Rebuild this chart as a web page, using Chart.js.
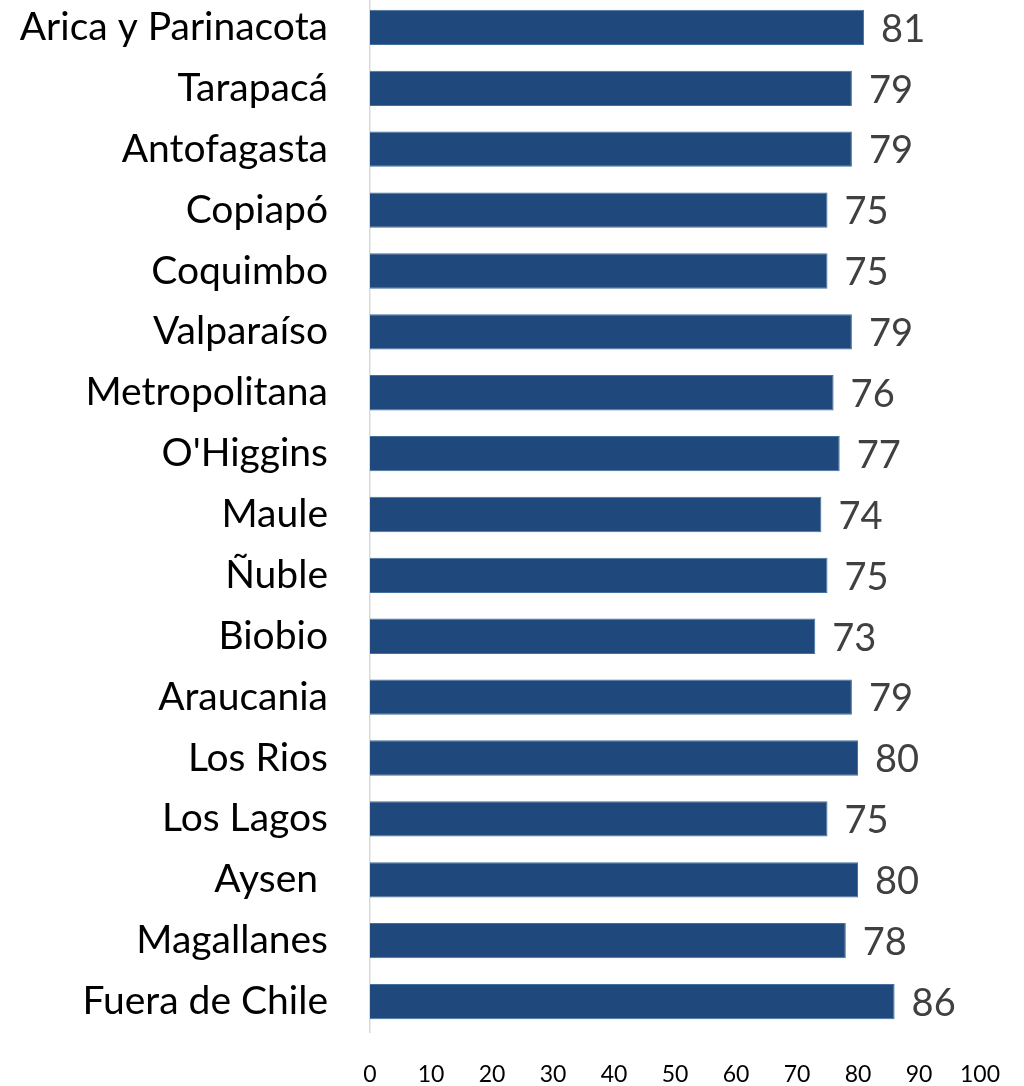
<!DOCTYPE html>
<html>
<head>
<meta charset="utf-8">
<script src="https://cdn.jsdelivr.net/npm/chart.js@4/dist/chart.umd.min.js"></script>
<style>
html,body{margin:0;padding:0;background:#fff;overflow:hidden;}
#wrap{width:1024px;height:1089px;position:relative;margin-top:-3px;}
</style>
</head>
<body>
<div id="wrap"><canvas id="c"></canvas></div>
<script>
const categories = ["Arica y Parinacota","Tarapacá","Antofagasta","Copiapó","Coquimbo","Valparaíso","Metropolitana","O'Higgins","Maule","Ñuble","Biobio","Araucania","Los Rios","Los Lagos","Aysen ","Magallanes","Fuera de Chile"];
const values = [81,79,79,75,75,79,76,77,74,75,73,79,80,75,80,78,86];
const xTicks = [0,10,20,30,40,50,60,70,80,90,100];

const FONT = "Lato, 'Open Sans', sans-serif";

const valueLabels = {
  id: 'valueLabels',
  afterDatasetsDraw(chart) {
    const ctx = chart.ctx;
    const meta = chart.getDatasetMeta(0);
    ctx.save();
    ctx.font = "38px " + FONT;
    ctx.fillStyle = "#404040";
    ctx.textAlign = "left";
    ctx.textBaseline = "middle";
    meta.data.forEach((bar, i) => {
      ctx.fillText(String(values[i]), bar.x + 17, bar.y + 2);
    });
    ctx.restore();
  }
};

new Chart(document.getElementById('c'), {
  type: 'bar',
  data: {
    labels: categories,
    datasets: [{
      data: values,
      backgroundColor: '#1F497D',
      borderColor: '#41719C',
      borderWidth: 1,
      categoryPercentage: 1,
      barPercentage: 0.58
    }]
  },
  options: {
    indexAxis: 'y',
    responsive: true,
    maintainAspectRatio: false,
    animation: false,
    layout: { padding: { top: 0, right: 44, left: 0, bottom: 0 } },
    plugins: { legend: { display: false }, tooltip: { enabled: false } },
    scales: {
      x: {
        min: 0, max: 100,
        afterBuildTicks(scale) { scale.ticks = xTicks.map(v => ({ value: v })); },
        grid: { display: false, drawTicks: false },
        border: { display: false },
        ticks: { color: '#000', font: { family: FONT, size: 23 }, padding: 29, maxRotation: 0, autoSkip: false },
        afterFit(scale) { scale.height = 54; scale.paddingLeft = 0; scale.paddingRight = 0; }
      },
      y: {
        grid: { display: false, drawTicks: false },
        border: { display: true, color: '#d9d9d9', width: 1.5 },
        ticks: { color: '#000', font: { family: FONT, size: 39 }, padding: 42, autoSkip: false },
        afterFit(scale) { scale.width = 370; scale.paddingTop = 0; scale.paddingBottom = 0; }
      }
    }
  },
  plugins: [valueLabels]
});
</script>
</body>
</html>
